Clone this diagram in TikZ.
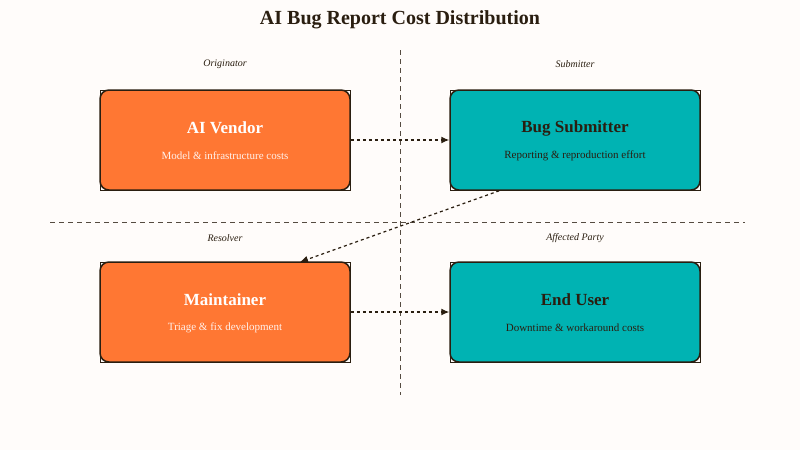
\documentclass[tikz,border=0pt]{standalone}
\usepackage{fontspec}
\setmainfont{Liberation Serif}
\usetikzlibrary{arrows.meta}
\definecolor{bg}{HTML}{FFFCFA}
\definecolor{ink}{HTML}{2A1E10}
\definecolor{orng}{HTML}{FF7733}
\definecolor{teal}{HTML}{00B3B3}
\begin{document}
\begin{tikzpicture}[x=1pt,y=-1pt,
  box/.style={minimum width=250pt,minimum height=100pt,rounded corners=9pt,draw=ink,line width=1.5pt,inner sep=0pt},
  ttl/.style={font=\bfseries\fontsize{17}{20}\selectfont},
  sub/.style={font=\fontsize{11}{13}\selectfont},
  lbl/.style={font=\itshape\fontsize{10}{12}\selectfont,text=ink},
  conn/.style={draw=ink,line width=1.2pt,dashed,-{Latex[length=8pt,width=7pt]}},
  divider/.style={draw=ink!80,line width=1pt,dash pattern=on 5pt off 4pt}]
\fill[bg] (0,0) rectangle (800,450);
\useasboundingbox (0,0) rectangle (800,450);
\node[font=\bfseries\fontsize{20}{24}\selectfont,text=ink] (title) at (400,20) {AI Bug Report Cost Distribution};
\draw[divider] (400,50) -- (400,395);
\draw[divider] (50,222) -- (745,222);
\node[lbl] (l1) at (225,64) {Originator};
\node[lbl] (l2) at (575,64) {Submitter};
\node[lbl] (l3) at (225,238) {Resolver};
\node[lbl] (l4) at (575,238) {Affected Party};
\foreach \x/\y in {100/90,450/90,100/262,450/262}
  \draw[ink,line width=1pt] (\x,\y) rectangle ++(250,100);
\node[box,fill=orng] (vendor) at (225,140) {};
\node[box,fill=teal] (submitter) at (575,140) {};
\node[box,fill=orng] (maint) at (225,312) {};
\node[box,fill=teal] (user) at (575,312) {};
\node[ttl,text=white] at (225,128) {AI Vendor};
\node[sub,text=white!90!orng] at (225,156) {Model \& infrastructure costs};
\node[ttl,text=ink] at (575,128) {Bug Submitter};
\node[sub,text=ink] at (575,156) {Reporting \& reproduction effort};
\node[ttl,text=white] at (225,300) {Maintainer};
\node[sub,text=white!90!orng] at (225,328) {Triage \& fix development};
\node[ttl,text=ink] at (575,300) {End User};
\node[sub,text=ink] at (575,328) {Downtime \& workaround costs};
\draw[conn] (vendor.east) -- (submitter.west);
\draw[conn] (maint.east) -- (user.west);
\draw[conn] (submitter.south west) ++(50,0) coordinate (s) (s) -- (300,262);
\end{tikzpicture}
\end{document}
